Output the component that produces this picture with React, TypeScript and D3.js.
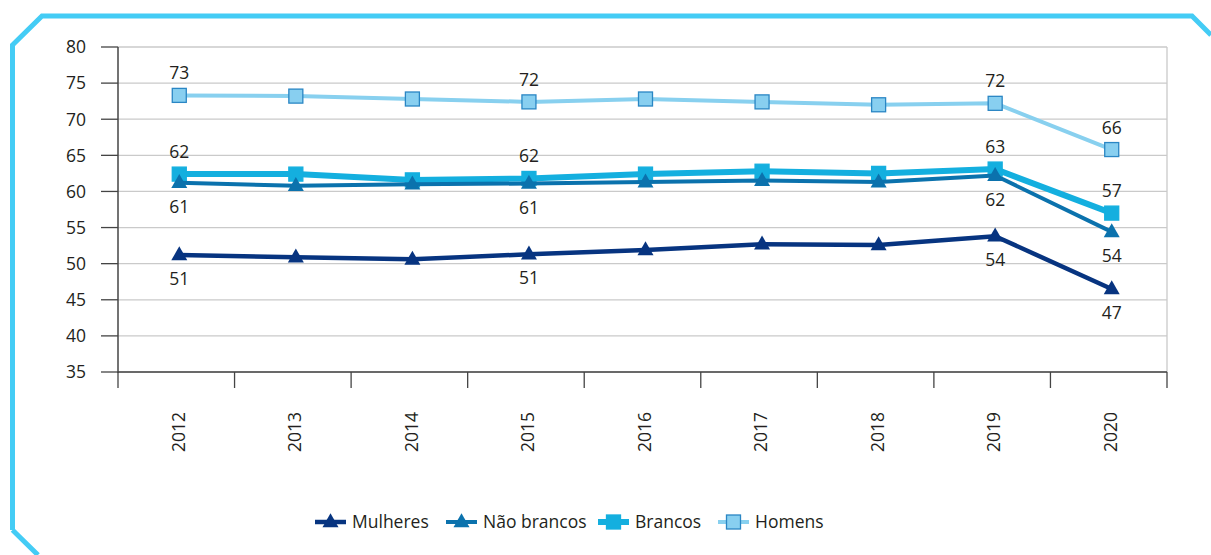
import React from "react";
import * as d3 from "d3";

const years = ["2012", "2013", "2014", "2015", "2016", "2017", "2018", "2019", "2020"];
const yTicks = [35, 40, 45, 50, 55, 60, 65, 70, 75, 80];
const mulheres = [51.2, 50.9, 50.6, 51.3, 51.9, 52.7, 52.6, 53.8, 46.5];
const naoBrancos = [61.2, 60.8, 61.0, 61.1, 61.3, 61.5, 61.3, 62.2, 54.4];
const brancos = [62.4, 62.4, 61.6, 61.8, 62.4, 62.8, 62.5, 63.1, 57.0];
const homens = [73.3, 73.2, 72.8, 72.4, 72.8, 72.4, 72.0, 72.2, 65.8];
const labeledIdx = [0, 3, 7, 8];

const FONT = "'Open Sans', 'Noto Sans', sans-serif";
const FS = 17.5;

type Series = {
  name: string;
  values: number[];
  color: string;
  width: number;
  marker: "tri" | "sq";
  fill: string;
  stroke: string;
  labelAbove: boolean;
};

const series: Series[] = [
  { name: "Homens", values: homens, color: "#88d0ef", width: 4, marker: "sq", fill: "#88cff0", stroke: "#2a86c4", labelAbove: true },
  { name: "Brancos", values: brancos, color: "#14afdf", width: 6, marker: "sq", fill: "#14afdf", stroke: "#14afdf", labelAbove: true },
  { name: "Não brancos", values: naoBrancos, color: "#0b72ad", width: 4, marker: "tri", fill: "#0b72ad", stroke: "#0b72ad", labelAbove: false },
  { name: "Mulheres", values: mulheres, color: "#073480", width: 4.5, marker: "tri", fill: "#073480", stroke: "#073480", labelAbove: false },
];

const legendOrder = ["Mulheres", "Não brancos", "Brancos", "Homens"];
const legendX = [315, 446, 598, 718];

export default function App() {
  const W = 1211, H = 555;
  const left = 118, right = 1167, top = 47, bottom = 372;
  const band = d3.scaleBand<string>().domain(years).range([left, right]);
  const xc = (i: number) => (band(years[i]) as number) + band.bandwidth() / 2 + 3;
  const y = d3.scaleLinear().domain([35, 80]).range([bottom, top]);
  const line = d3.line<number>().x((_, i) => xc(i)).y((v) => y(v));

  const marker = (s: Series, cx: number, cy: number, key: string | number, size = 1) => {
    if (s.marker === "sq") {
      const a = 14 * size;
      return (
        <rect key={key} x={cx - a / 2} y={cy - a / 2} width={a} height={a} fill={s.fill} stroke={s.stroke} strokeWidth={1.3} />
      );
    }
    const w = 16 * size, h = 14 * size;
    return (
      <path key={key} d={`M${cx},${cy - h * 0.62} L${cx + w / 2},${cy + h * 0.38} L${cx - w / 2},${cy + h * 0.38} Z`} fill={s.fill} />
    );
  };

  return (
    <svg width={W} height={H} style={{ position: "absolute", left: 0, top: 0, background: "#fff" }} fontFamily={FONT}>
      <path d="M12.5,530 L12.5,45 L42,16 L1192,16 L1211,35 M12.5,530 L38,555" fill="none" stroke="#44ccf5" strokeWidth={5} />
      {yTicks.map((t) => (
        <line key={"g" + t} x1={left} x2={right} y1={y(t)} y2={y(t)} stroke="#cacaca" strokeWidth={1.3} />
      ))}
      <line x1={right} x2={right} y1={top} y2={bottom} stroke="#cacaca" strokeWidth={1.3} />
      <line x1={left} x2={left} y1={top} y2={bottom + 1} stroke="#444" strokeWidth={1.5} />
      {yTicks.map((t) => (
        <g key={"yt" + t}>
          <line x1={101} x2={left} y1={y(t)} y2={y(t)} stroke="#444" strokeWidth={1.3} />
          <text x={86} y={y(t)} dy="0.36em" textAnchor="end" fontSize={FS} fill="#231f20">{t}</text>
        </g>
      ))}
      <line x1={left} x2={right} y1={bottom} y2={bottom} stroke="#444" strokeWidth={1.5} />
      {years.map((yr) => (
        <line key={"xt" + yr} x1={band(yr) as number} x2={band(yr) as number} y1={bottom} y2={bottom + 16} stroke="#444" strokeWidth={1.3} />
      ))}
      <line x1={right} x2={right} y1={bottom} y2={bottom + 16} stroke="#444" strokeWidth={1.3} />
      {years.map((yr, i) => (
        <text key={"xl" + yr} transform={`translate(${xc(i) - 1},412) rotate(-90)`} textAnchor="end" dy="0.36em" fontSize={FS} fill="#231f20">{yr}</text>
      ))}
      {series.map((s) => (
        <g key={s.name}>
          <path d={line(s.values) as string} fill="none" stroke={s.color} strokeWidth={s.width} strokeLinejoin="round" />
          {s.values.map((v, i) => marker(s, xc(i), y(v), i))}
          {labeledIdx.map((i) => (
            <text key={"l" + i} x={xc(i)} y={y(s.values[i]) + (s.labelAbove ? -16 : 30)} textAnchor="middle" fontSize={FS} fill="#231f20">
              {Math.round(s.values[i])}
            </text>
          ))}
        </g>
      ))}
      {legendOrder.map((name, k) => {
        const s = series.find((d) => d.name === name) as Series;
        const x0 = legendX[k];
        const cy = 522;
        return (
          <g key={"lg" + name}>
            <line x1={x0} x2={x0 + 31} y1={cy} y2={cy} stroke={s.color} strokeWidth={s.width} />
            {marker(s, x0 + 15.5, cy, "m", 1)}
            <text x={x0 + 37} y={cy} dy="0.36em" fontSize={FS} fill="#231f20">{name}</text>
          </g>
        );
      })}
    </svg>
  );
}
